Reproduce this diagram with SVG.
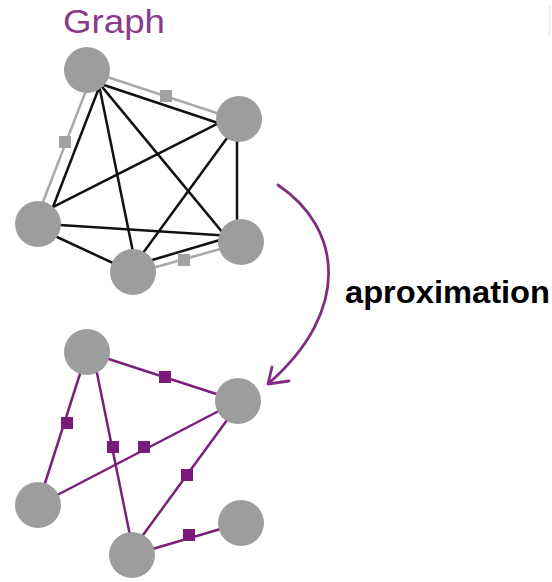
<svg xmlns="http://www.w3.org/2000/svg" width="552" height="582" viewBox="0 0 552 582">
<style>
.node{fill:#9c9d9d}
.blk{stroke:#111;stroke-width:2.5;fill:none}
.gry{stroke:#a9a9a9;stroke-width:2.6;fill:none}
.gsq{fill:#a2a2a2}
.pur{stroke:#7a1f7a;stroke-width:2.5;fill:none}
.psq{fill:#7a1a7b}
.title{font-family:"Liberation Sans",Arial,sans-serif;font-size:33px;fill:#8a3a8b}
.label{font-family:"Liberation Sans",Arial,sans-serif;font-size:32px;font-weight:bold;fill:#000}
.arrow{stroke:#832c84;stroke-width:2.8;fill:none;stroke-linecap:round;stroke-linejoin:round}
</style>
<rect width="552" height="582" fill="#fff"/>
<rect x="548.5" y="6" width="2" height="30" fill="#f8e6f8"/>
<text class="title" x="63" y="33" textLength="102" lengthAdjust="spacingAndGlyphs">Graph</text>
<text class="label" x="345" y="303" textLength="205" lengthAdjust="spacingAndGlyphs">aproximation</text>
<g id="connectors">
  <g id="top-edges">
    <line class="gry" x1="104.3" y1="76.1" x2="222.7" y2="114.9"/>
    <line class="gry" x1="87.2" y1="87.4" x2="40.8" y2="207.6"/>
    <line class="gry" x1="147.2" y1="269.6" x2="225.8" y2="247.4"/>
    <line class="blk" x1="99.4" y1="83.5" x2="222.6" y2="124.5"/>
    <line class="blk" x1="99.9" y1="85.5" x2="50.1" y2="214.5"/>
    <line class="blk" x1="98.8" y1="84.1" x2="134.2" y2="257.9"/>
    <line class="blk" x1="99.2" y1="83.4" x2="226.8" y2="237.6"/>
    <line class="blk" x1="222.1" y1="121.4" x2="45.9" y2="210.6"/>
    <line class="blk" x1="230.5" y1="133.2" x2="139.5" y2="257.8"/>
    <line class="blk" x1="237" y1="135" x2="237" y2="228"/>
    <line class="blk" x1="52" y1="224.5" x2="228" y2="235.8"/>
    <line class="blk" x1="51.6" y1="234.5" x2="118.4" y2="265.5"/>
    <line class="blk" x1="146.2" y1="261.7" x2="225.8" y2="238.3"/>
    <rect class="gsq" x="160" y="90" width="12" height="12"/>
    <rect class="gsq" x="59" y="136" width="12" height="12"/>
    <rect class="gsq" x="178" y="254" width="12" height="12"/>
  </g>
  <g id="bottom-edges">
    <line class="pur" x1="87" y1="352" x2="238" y2="401"/>
    <line class="pur" x1="87" y1="352" x2="38" y2="505"/>
    <line class="pur" x1="92.7" y1="352" x2="134" y2="555"/>
    <line class="pur" x1="38" y1="505" x2="238" y2="401"/>
    <line class="pur" x1="241" y1="401" x2="128.4" y2="555"/>
    <line class="pur" x1="132" y1="555" x2="241" y2="523"/>
    <rect class="psq" x="159" y="371" width="12" height="12"/>
    <rect class="psq" x="61" y="417" width="12" height="12"/>
    <rect class="psq" x="107" y="441" width="12" height="12"/>
    <rect class="psq" x="138" y="441" width="12" height="12"/>
    <rect class="psq" x="181" y="469" width="12" height="12"/>
    <rect class="psq" x="183" y="529" width="12" height="12"/>
  </g>
  <g id="approx-arrow">
    <path class="arrow" d="M278,185 C342,228 352,310 269,383"/>
    <path class="arrow" d="M272,367 L268,384 L289,381"/>
  </g>
</g>
<g id="node-a"><circle class="node" cx="87" cy="70" r="23"/></g>
<g id="node-b"><circle class="node" cx="239" cy="119" r="23"/></g>
<g id="node-c"><circle class="node" cx="38" cy="224" r="23"/></g>
<g id="node-d"><circle class="node" cx="241" cy="242" r="23"/></g>
<g id="node-e"><circle class="node" cx="133" cy="272" r="23"/></g>
<g id="node-p"><circle class="node" cx="87" cy="352" r="23"/></g>
<g id="node-q"><circle class="node" cx="238" cy="401" r="23"/></g>
<g id="node-r"><circle class="node" cx="38" cy="505" r="23"/></g>
<g id="node-s"><circle class="node" cx="132" cy="555" r="23"/></g>
<g id="node-t"><circle class="node" cx="241" cy="523" r="23"/></g>
</svg>
